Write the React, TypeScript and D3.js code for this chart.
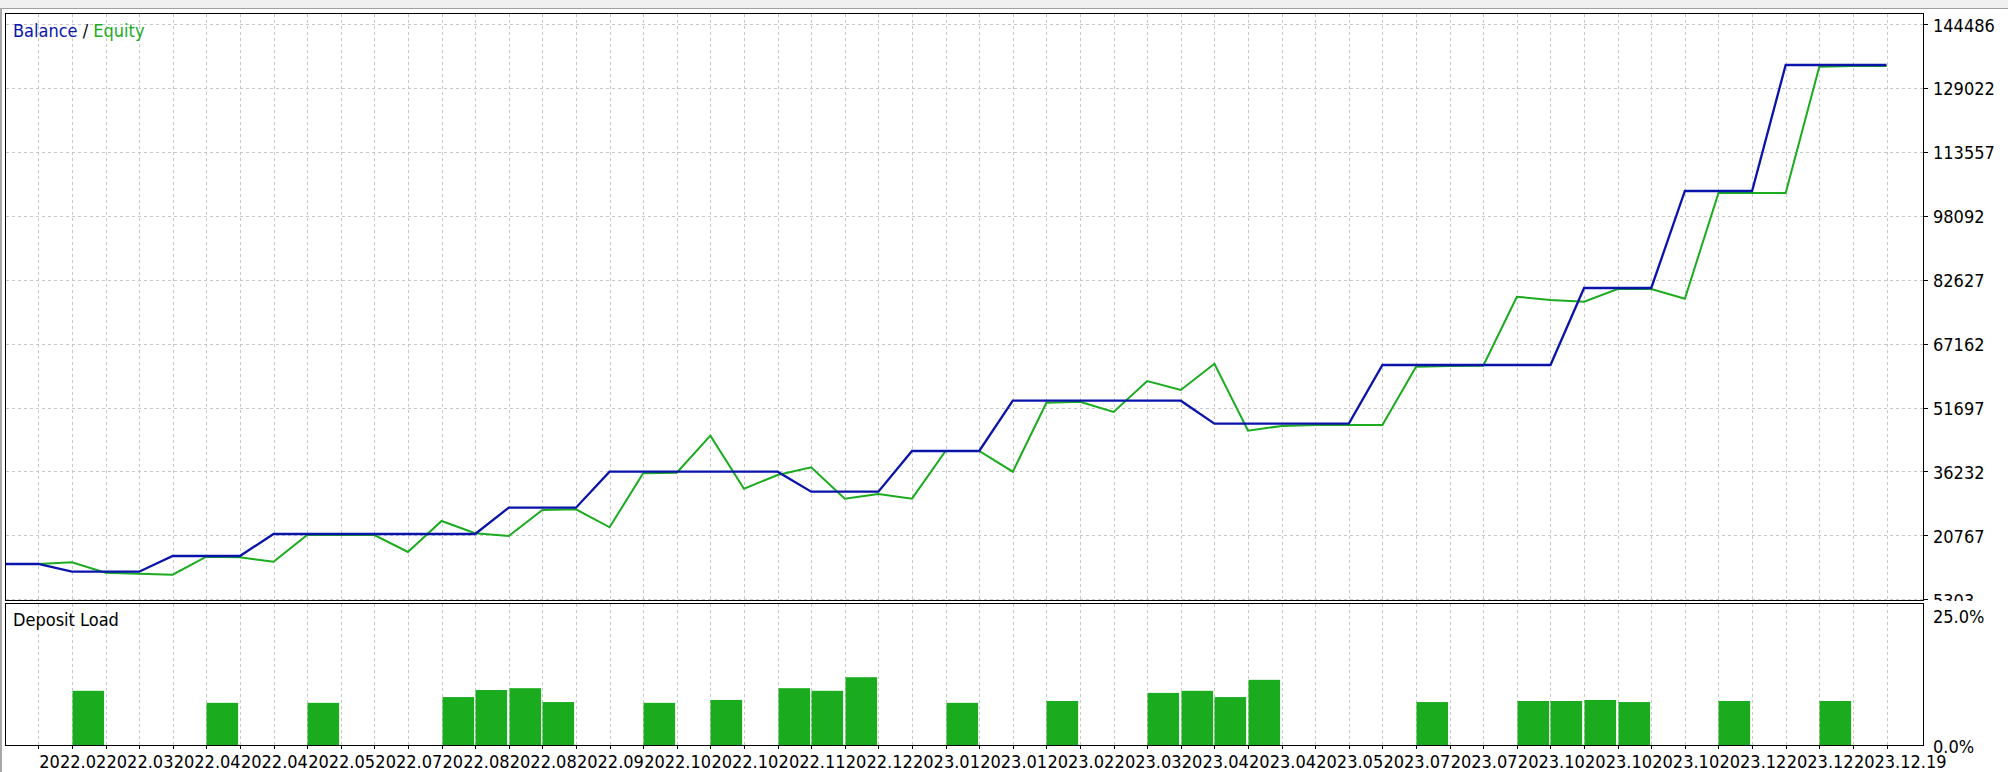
import React from 'react';
import * as d3 from 'd3';

// balance / equity per deal index (0..56)
const balance = [13822, 13822, 11959, 11959, 11959, 15758, 15758, 15758, 21083, 21083, 21083, 21083, 21083, 21083, 21083, 27448, 27448, 27448, 36161, 36161, 36161, 36161, 36161, 36161, 31320, 31320, 31320, 41170, 41170, 41170, 53344, 53344, 53344, 53344, 53344, 53344, 47778, 47778, 47778, 47778, 47778, 61984, 61984, 61984, 61984, 61984, 61984, 80620, 80620, 80620, 104095, 104095, 104095, 134590, 134590, 134590, 134590];
const equity = [13822, 13822, 14234, 11717, 11475, 11232, 15589, 15444, 14379, 20841, 20841, 20841, 16726, 24229, 21252, 20599, 26891, 27061, 22704, 35773, 35919, 44873, 32046, 35362, 37225, 29626, 30763, 29626, 41170, 41170, 36161, 52860, 53102, 50609, 58112, 55934, 62299, 46083, 47221, 47463, 47463, 47463, 61573, 61742, 61815, 78514, 77715, 77304, 80378, 80378, 78030, 103612, 103612, 103612, 134179, 134348, 134348];

// deposit load (%) per slot between deal indices
const loadSlots = [2, 6, 9, 13, 14, 15, 16, 19, 21, 23, 24, 25, 28, 31, 34, 35, 36, 37, 42, 45, 46, 47, 48, 51, 54];
const loadValues = [10.5, 8.2, 8.2, 9.3, 10.65, 11.0, 8.35, 8.2, 8.75, 11.0, 10.5, 13.1, 8.2, 8.55, 10.1, 10.5, 9.3, 12.6, 8.35, 8.55, 8.55, 8.75, 8.35, 8.55, 8.55];

const yTicks = [5303, 20767, 36232, 51697, 67162, 82627, 98092, 113557, 129022, 144486];
const loadTicks = [0, 25];

const xLabels = ['2022.02', '2022.03', '2022.04', '2022.04', '2022.05', '2022.07', '2022.08', '2022.08', '2022.09', '2022.10', '2022.10', '2022.11', '2022.12', '2023.01', '2023.01', '2023.02', '2023.03', '2023.04', '2023.04', '2023.05', '2023.07', '2023.07', '2023.10', '2023.10', '2023.10', '2023.12', '2023.12', '2023.12.19'];

const W = 2008;
const H = 772;
const left = 5.5;
const right = 1923.5;
const mainTop = 13.5;
const mainBottom = 600.5;
const lowTop = 603.5;
const lowBottom = 745.5;

const BLUE = '#0a14aa';
const GREEN = '#1aab1f';
const FONT = "'DejaVu Sans Condensed', 'DejaVu Sans', sans-serif";
const FS = 18;

const App: React.FC = () => {
  const n = balance.length;
  const x = d3.scaleLinear().domain([0, n - 1]).range([4.7, 1886.5]);
  const step = x(1) - x(0);
  const y = d3.scaleLinear().domain([yTicks[0], yTicks[yTicks.length - 1]]).range([599.2, 24.1]);
  const yLoad = d3.scaleLinear().domain([0, 25]).range([745.7, 615]);

  const line = d3.line<number>().x((_, i) => x(i)).y(d => y(d));

  const grid = d3.range(1, n);

  return (
    <svg width={W} height={H} style={{ position: 'absolute', left: 0, top: 0, background: '#fff' }}
      fontFamily={FONT} fontSize={FS} fontStretch="condensed">
      <defs>
        <clipPath id="mainClip"><rect x={left} y={mainTop} width={right - left} height={mainBottom - mainTop} /></clipPath>
        <clipPath id="labelClip"><rect x={right} y={0} width={W - right} height={601} /></clipPath>
      </defs>
      <rect x={0} y={0} width={W} height={8} fill="#f0f0f0" />
      <line x1={0} x2={W} y1={8.5} y2={8.5} stroke="#a0a0a0" />
      <rect x={0} y={8} width={2} height={H} fill="#a8a8a8" />

      {/* grid */}
      <g stroke="#c8c8c8" strokeDasharray="3,3" shapeRendering="crispEdges">
        {yTicks.map(t => (
          <line key={'h' + t} x1={left} x2={right} y1={Math.round(y(t)) + 0.5} y2={Math.round(y(t)) + 0.5} />
        ))}
        {grid.map(i => (
          <line key={'v' + i} x1={Math.round(x(i)) + 0.5} x2={Math.round(x(i)) + 0.5} y1={mainTop} y2={mainBottom} />
        ))}
        {grid.map(i => (
          <line key={'vl' + i} x1={Math.round(x(i)) + 0.5} x2={Math.round(x(i)) + 0.5} y1={lowTop} y2={lowBottom} />
        ))}
      </g>

      {/* balance / equity */}
      <g clipPath="url(#mainClip)" fill="none" strokeLinejoin="miter">
        <path d={line(equity) || ''} stroke={GREEN} strokeWidth={2} />
        <path d={line(balance) || ''} stroke={BLUE} strokeWidth={2.3} />
      </g>

      {/* deposit load */}
      <g fill={GREEN}>
        {loadSlots.map((s, k) => (
          <rect key={'b' + s} x={Math.round(x(s)) + 0.5} y={yLoad(loadValues[k])}
            width={step - 2} height={yLoad(0) - yLoad(loadValues[k])} />
        ))}
      </g>

      {/* frames */}
      <g fill="none" stroke="#000" shapeRendering="crispEdges">
        <rect x={left} y={mainTop} width={right - left} height={mainBottom - mainTop} />
        <rect x={left} y={lowTop} width={right - left} height={lowBottom - lowTop} />
      </g>

      {/* axis ticks */}
      <g stroke="#000" shapeRendering="crispEdges">
        {yTicks.map(t => (
          <line key={'t' + t} x1={right} x2={right + 4} y1={Math.round(y(t)) + 0.5} y2={Math.round(y(t)) + 0.5} />
        ))}
        {grid.map(i => (
          <line key={'xt' + i} x1={Math.round(x(i)) + 0.5} x2={Math.round(x(i)) + 0.5} y1={lowBottom} y2={lowBottom + 3} />
        ))}
      </g>
      <g clipPath="url(#labelClip)">
        {yTicks.map(t => (
          <text key={'l' + t} x={1933} y={y(t) + 7.5} fill="#000">{t}</text>
        ))}
      </g>
      {loadTicks.map(t => (
        <text key={'lt' + t} x={1933} y={yLoad(t) + 7.5} fill="#000">{t.toFixed(1) + '%'}</text>
      ))}

      {/* x labels */}
      {xLabels.map((lab, k) => (
        <text key={'x' + k} x={x(1 + 2 * k) + 1} y={768} fill="#000">{lab}</text>
      ))}

      <text x={13} y={37}>
        <tspan fill={BLUE}>Balance</tspan>
        <tspan fill="#000"> / </tspan>
        <tspan fill={GREEN}>Equity</tspan>
      </text>
      <text x={13} y={626} fill="#000">Deposit Load</text>
    </svg>
  );
};

export default App;
